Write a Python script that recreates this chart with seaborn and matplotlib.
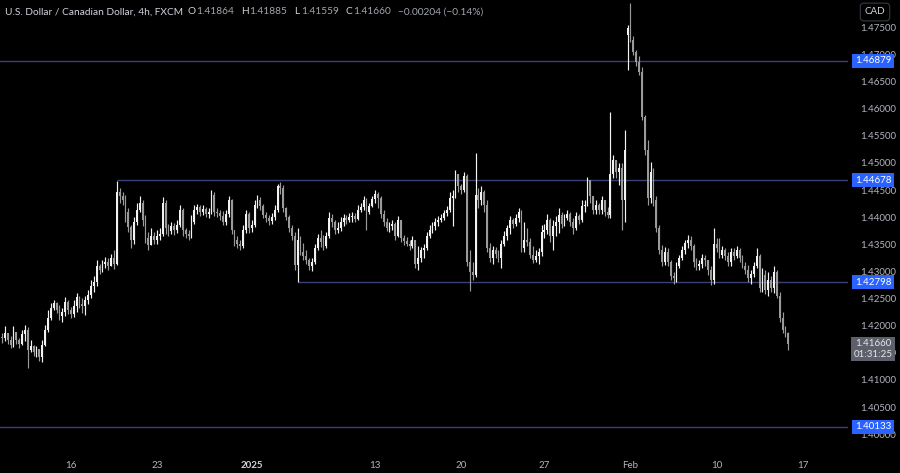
import numpy as np
import pandas as pd
import seaborn as sns
import matplotlib
matplotlib.use('Agg')
import matplotlib.pyplot as plt

# 4h USD/CAD candles (open = previous close unless noted)
close = [1.4177, 1.4186, 1.4173, 1.4164, 1.4188, 1.4173, 1.4166, 1.4184, 1.4192, 1.4155,
         1.4162, 1.4151, 1.4157, 1.4142, 1.4164, 1.4192, 1.4214, 1.4232, 1.4242, 1.4229,
         1.4218, 1.4225, 1.4243, 1.4229, 1.4221, 1.4236, 1.4252, 1.4240, 1.4236, 1.4247,
         1.4257, 1.4273, 1.4280, 1.4310, 1.4302, 1.4314, 1.4317, 1.4310, 1.4325, 1.4314,
         1.4446, 1.4439, 1.4431, 1.4409, 1.4381, 1.4358, 1.4391, 1.4413, 1.4427, 1.4395,
         1.4362, 1.4349, 1.4365, 1.4358, 1.4365, 1.4369, 1.4427, 1.4380, 1.4374, 1.4384,
         1.4376, 1.4386, 1.4413, 1.4376, 1.4369, 1.4365, 1.4391, 1.4413, 1.4418, 1.4409,
         1.4415, 1.4406, 1.4409, 1.4441, 1.4409, 1.4407, 1.4402, 1.4391, 1.4406, 1.4431,
         1.4376, 1.4358, 1.4351, 1.4347, 1.4376, 1.4406, 1.4380, 1.4386, 1.4422, 1.4431,
         1.4420, 1.4404, 1.4398, 1.4393, 1.4400, 1.4413, 1.4457, 1.4453, 1.4416, 1.4400,
         1.4380, 1.4365, 1.4312, 1.4358, 1.4336, 1.4328, 1.4321, 1.4310, 1.4317, 1.4343,
         1.4362, 1.4354, 1.4347, 1.4365, 1.4398, 1.4391, 1.4376, 1.4380, 1.4391, 1.4398,
         1.4395, 1.4400, 1.4402, 1.4397, 1.4413, 1.4418, 1.4431, 1.4409, 1.4420, 1.4433,
         1.4442, 1.4435, 1.4406, 1.4391, 1.4380, 1.4384, 1.4387, 1.4365, 1.4395, 1.4362,
         1.4356, 1.4351, 1.4347, 1.4358, 1.4314, 1.4325, 1.4339, 1.4343, 1.4365, 1.4376,
         1.4384, 1.4391, 1.4395, 1.4398, 1.4407, 1.4413, 1.4435, 1.4439, 1.4479, 1.4457,
         1.4450, 1.4476, 1.4317, 1.4299, 1.4293, 1.4441, 1.4431, 1.4446, 1.4422, 1.4343,
         1.4325, 1.4339, 1.4332, 1.4325, 1.4351, 1.4365, 1.4380, 1.4395, 1.4387, 1.4398,
         1.4409, 1.4343, 1.4358, 1.4354, 1.4330, 1.4321, 1.4328, 1.4336, 1.4373, 1.4376,
         1.4395, 1.4365, 1.4384, 1.4391, 1.4404, 1.4387, 1.4398, 1.4406, 1.4391, 1.4380,
         1.4402, 1.4395, 1.4420, 1.4422, 1.4468, 1.4439, 1.4413, 1.4422, 1.4413, 1.4431,
         1.4409, 1.4404, 1.4479, 1.4505, 1.4483, 1.4490, 1.4431, 1.4524, 1.4748, 1.4726,
         1.4704, 1.4686, 1.4667, 1.4584, 1.4524, 1.4435, 1.4483, 1.4431, 1.4380, 1.4339,
         1.4317, 1.4336, 1.4317, 1.4291, 1.4288, 1.4310, 1.4325, 1.4339, 1.4352, 1.4358,
         1.4347, 1.4317, 1.4310, 1.4314, 1.4325, 1.4321, 1.4302, 1.4284, 1.4351, 1.4343,
         1.4330, 1.4339, 1.4328, 1.4317, 1.4336, 1.4328, 1.4339, 1.4325, 1.4310, 1.4302,
         1.4288, 1.4295, 1.4310, 1.4328, 1.4269, 1.4293, 1.4266, 1.4284, 1.4269, 1.4299,
         1.4255, 1.4214, 1.4192, 1.4186, 1.4166]
high = [1.4186, 1.4199, 1.4183, 1.4181, 1.4199, 1.4186, 1.4177, 1.4192, 1.4201, 1.4197,
        1.4173, 1.4164, 1.4162, 1.4157, 1.4173, 1.4201, 1.4229, 1.4242, 1.4247, 1.4243,
        1.4238, 1.4232, 1.4252, 1.4247, 1.4234, 1.4247, 1.4260, 1.4255, 1.4251, 1.4255,
        1.4266, 1.4284, 1.4291, 1.4321, 1.4314, 1.4321, 1.4326, 1.4325, 1.4332, 1.4339,
        1.4466, 1.4453, 1.4446, 1.4441, 1.4416, 1.4386, 1.4400, 1.4426, 1.4439, 1.4431,
        1.4404, 1.4373, 1.4380, 1.4373, 1.4376, 1.4380, 1.4437, 1.4431, 1.4387, 1.4391,
        1.4389, 1.4395, 1.4422, 1.4416, 1.4380, 1.4376, 1.4404, 1.4422, 1.4424, 1.4422,
        1.4422, 1.4418, 1.4416, 1.4450, 1.4446, 1.4416, 1.4413, 1.4411, 1.4413, 1.4439,
        1.4433, 1.4376, 1.4365, 1.4358, 1.4386, 1.4413, 1.4409, 1.4395, 1.4431, 1.4441,
        1.4437, 1.4424, 1.4409, 1.4404, 1.4407, 1.4422, 1.4462, 1.4464, 1.4459, 1.4418,
        1.4404, 1.4386, 1.4373, 1.4380, 1.4365, 1.4352, 1.4339, 1.4325, 1.4325, 1.4351,
        1.4369, 1.4376, 1.4367, 1.4373, 1.4409, 1.4406, 1.4395, 1.4391, 1.4400, 1.4406,
        1.4404, 1.4407, 1.4409, 1.4407, 1.4422, 1.4426, 1.4439, 1.4435, 1.4426, 1.4439,
        1.4450, 1.4446, 1.4439, 1.4413, 1.4398, 1.4391, 1.4395, 1.4391, 1.4402, 1.4395,
        1.4367, 1.4363, 1.4358, 1.4365, 1.4358, 1.4347, 1.4345, 1.4351, 1.4373, 1.4386,
        1.4391, 1.4398, 1.4402, 1.4406, 1.4413, 1.4420, 1.4446, 1.4450, 1.4487, 1.4468,
        1.4461, 1.4483, 1.4479, 1.4339, 1.4317, 1.4518, 1.4453, 1.4457, 1.4450, 1.4431,
        1.4352, 1.4347, 1.4345, 1.4339, 1.4358, 1.4374, 1.4386, 1.4402, 1.4398, 1.4406,
        1.4416, 1.4413, 1.4391, 1.4380, 1.4362, 1.4347, 1.4339, 1.4343, 1.4386, 1.4387,
        1.4406, 1.4398, 1.4395, 1.4402, 1.4416, 1.4409, 1.4406, 1.4413, 1.4409, 1.4398,
        1.4409, 1.4406, 1.4431, 1.4431, 1.4474, 1.4464, 1.4435, 1.4431, 1.4426, 1.4439,
        1.4426, 1.4418, 1.4594, 1.4515, 1.4498, 1.4500, 1.4500, 1.4560, 1.4754, 1.4795,
        1.4734, 1.4708, 1.4697, 1.4676, 1.4588, 1.4542, 1.4502, 1.4490, 1.4439, 1.4386,
        1.4349, 1.4345, 1.4343, 1.4321, 1.4299, 1.4317, 1.4330, 1.4347, 1.4358, 1.4367,
        1.4365, 1.4351, 1.4325, 1.4321, 1.4332, 1.4330, 1.4321, 1.4310, 1.4380, 1.4362,
        1.4362, 1.4347, 1.4343, 1.4336, 1.4343, 1.4343, 1.4347, 1.4343, 1.4330, 1.4317,
        1.4312, 1.4302, 1.4317, 1.4343, 1.4332, 1.4306, 1.4302, 1.4299, 1.4291, 1.4310,
        1.4302, 1.4262, 1.4225, 1.4199, 1.4189]
low = [1.4169, 1.4171, 1.4166, 1.4158, 1.4160, 1.4166, 1.4158, 1.4164, 1.4171, 1.4122,
       1.4151, 1.4144, 1.4142, 1.4135, 1.4133, 1.4162, 1.4188, 1.4210, 1.4229, 1.4223,
       1.4210, 1.4206, 1.4218, 1.4221, 1.4214, 1.4216, 1.4225, 1.4232, 1.4223, 1.4220,
       1.4240, 1.4251, 1.4262, 1.4273, 1.4295, 1.4299, 1.4306, 1.4302, 1.4310, 1.4304,
       1.4312, 1.4427, 1.4422, 1.4391, 1.4372, 1.4343, 1.4351, 1.4386, 1.4409, 1.4384,
       1.4353, 1.4339, 1.4351, 1.4351, 1.4351, 1.4358, 1.4365, 1.4369, 1.4365, 1.4369,
       1.4367, 1.4371, 1.4382, 1.4365, 1.4362, 1.4358, 1.4362, 1.4387, 1.4406, 1.4402,
       1.4404, 1.4400, 1.4398, 1.4406, 1.4402, 1.4400, 1.4395, 1.4386, 1.4386, 1.4400,
       1.4369, 1.4347, 1.4343, 1.4339, 1.4343, 1.4371, 1.4371, 1.4373, 1.4382, 1.4416,
       1.4413, 1.4398, 1.4391, 1.4386, 1.4387, 1.4395, 1.4409, 1.4442, 1.4409, 1.4395,
       1.4373, 1.4358, 1.4302, 1.4280, 1.4330, 1.4321, 1.4314, 1.4302, 1.4300, 1.4314,
       1.4339, 1.4345, 1.4339, 1.4343, 1.4362, 1.4382, 1.4369, 1.4371, 1.4374, 1.4384,
       1.4387, 1.4391, 1.4391, 1.4391, 1.4395, 1.4409, 1.4413, 1.4376, 1.4406, 1.4418,
       1.4427, 1.4416, 1.4398, 1.4384, 1.4374, 1.4373, 1.4376, 1.4358, 1.4363, 1.4354,
       1.4349, 1.4347, 1.4339, 1.4343, 1.4306, 1.4302, 1.4317, 1.4325, 1.4339, 1.4362,
       1.4371, 1.4376, 1.4384, 1.4391, 1.4395, 1.4402, 1.4409, 1.4384, 1.4435, 1.4446,
       1.4442, 1.4446, 1.4310, 1.4264, 1.4284, 1.4289, 1.4416, 1.4422, 1.4409, 1.4336,
       1.4317, 1.4314, 1.4325, 1.4317, 1.4306, 1.4347, 1.4358, 1.4369, 1.4380, 1.4384,
       1.4391, 1.4336, 1.4336, 1.4347, 1.4325, 1.4315, 1.4317, 1.4314, 1.4328, 1.4362,
       1.4369, 1.4354, 1.4339, 1.4365, 1.4371, 1.4380, 1.4384, 1.4395, 1.4384, 1.4369,
       1.4376, 1.4387, 1.4391, 1.4409, 1.4420, 1.4427, 1.4406, 1.4406, 1.4406, 1.4406,
       1.4402, 1.4398, 1.4398, 1.4472, 1.4472, 1.4459, 1.4376, 1.4391, 1.4671, 1.4723,
       1.4699, 1.4678, 1.4662, 1.4579, 1.4515, 1.4422, 1.4427, 1.4420, 1.4373, 1.4332,
       1.4310, 1.4312, 1.4310, 1.4284, 1.4277, 1.4280, 1.4306, 1.4321, 1.4332, 1.4343,
       1.4339, 1.4308, 1.4302, 1.4302, 1.4306, 1.4310, 1.4293, 1.4275, 1.4277, 1.4336,
       1.4325, 1.4325, 1.4321, 1.4310, 1.4310, 1.4321, 1.4325, 1.4317, 1.4306, 1.4295,
       1.4280, 1.4277, 1.4289, 1.4306, 1.4262, 1.4262, 1.4258, 1.4255, 1.4262, 1.4260,
       1.4251, 1.4206, 1.4186, 1.4180, 1.4156]
first_open = 1.4180
gap_open = {218: 1.4736}   # weekend gap on the tariff news open

levels = [1.46879, 1.44678, 1.42798, 1.40133]
level_from = [-1, 40, 103, -1]

date_pos = [24, 54, 87, 130, 160, 189, 219, 249, 279]
date_labels = ['16', '23', '2025', '13', '20', '27', 'Feb', '10', '17']

title_name = 'U.S. Dollar / Canadian Dollar, 4h, FXCM'
ohlc_text = [('O', '1.41864'), ('H', '1.41885'), ('L', '1.41559'), ('C', '1.41660')]
change_text = '\u22120.00204 (\u22120.14%)'
last_price = '1.41660'
countdown = '01:31:25'

df = pd.DataFrame({'close': close, 'high': high, 'low': low})
df['open'] = df['close'].shift(1)
df.loc[0, 'open'] = first_open
for k, v in gap_open.items():
    df.loc[k, 'open'] = v
df['high'] = np.maximum(df['high'], df[['open', 'close']].max(axis=1))
df['low'] = np.minimum(df['low'], df[['open', 'close']].min(axis=1))
df['up'] = df['close'] >= df['open']

sns.set_theme(style='dark', rc={'axes.facecolor': 'black', 'figure.facecolor': 'black',
                                'axes.grid': False})
plt.rcParams['font.family'] = ['Lato', 'DejaVu Sans']

fig = plt.figure(figsize=(9, 4.73), dpi=100)
ax = fig.add_axes([0, 26 / 473, 848 / 900, 447 / 473])
ax.set_facecolor('black')

UP = '#f2f2f2'
DOWN = '#9a9a9a'
cols = np.where(df['up'], UP, DOWN)
idx = np.arange(len(df))

ax.vlines(idx, df['low'], df['high'], colors=cols, lw=0.85, zorder=3)
body_lo = df[['open', 'close']].min(axis=1)
body_h = np.maximum((df['close'] - df['open']).abs(), 0.00006)
ax.bar(idx, body_h, bottom=body_lo, width=0.62, color=cols, linewidth=0, zorder=4)

LINE = '#3b4076'
for lv, start in zip(levels, level_from):
    ax.hlines(lv, start, 400, colors=LINE, lw=1.0, zorder=2)

ax.set_xlim(-0.7, 294.8)
ax.set_ylim(1.39764, 1.48003)
for s in ax.spines.values():
    s.set_visible(False)

# price scale on the right
ax.yaxis.tick_right()
ax.set_yticks(np.round(np.arange(1.400, 1.4751, 0.005), 3))
ax.yaxis.set_major_formatter(matplotlib.ticker.FormatStrFormatter('%.5f'))
ax.tick_params(axis='y', length=0, pad=9, labelsize=7, labelcolor='#b2b5be')

ax.set_xticks(date_pos, date_labels)
ax.tick_params(axis='x', length=0, pad=10, labelsize=7, labelcolor='#b2b5be')
for t in ax.get_xticklabels():
    if t.get_text() == '2025':
        t.set_fontweight('bold')
        t.set_color('#d1d4dc')

trans = matplotlib.transforms.blended_transform_factory(fig.transFigure, ax.transData)
for lv in levels:
    ax.text(873 / 900, lv, f'{lv:.5f}', transform=trans, ha='center', va='center',
            fontsize=7, color='white', zorder=20, clip_on=False,
            bbox=dict(boxstyle='square,pad=0.25', fc='#2962ff', ec='none'))
ax.text(873 / 900, df['close'].iloc[-1] + 0.0009, f'{last_price}\n{countdown}', transform=trans,
        ha='center', va='top', fontsize=7, color='#e6e6e6', zorder=20, clip_on=False,
        linespacing=1.2,
        bbox=dict(boxstyle='square,pad=0.25', fc='#5d606b', ec='none'))

fig.text(875 / 900, 1 - 12 / 473, 'CAD', ha='center', va='center', fontsize=7,
         color='#d1d4dc',
         bbox=dict(boxstyle='round,pad=0.45,rounding_size=0.4', fc='black', ec='#363a45', lw=0.8))

# legend row at the top left, drawn piece by piece
renderer = fig.canvas.get_renderer()
LIGHT = '#d1d4dc'
GREY = '#a3a6af'
pieces = [(title_name, LIGHT, 4)]
for k, v in ohlc_text:
    pieces.append((k, LIGHT, 1))
    pieces.append((v, GREY, 7))
pieces.append((change_text, GREY, 0))
x = 5 / 900
y = 1 - 12 / 473
for txt, col, gap in pieces:
    t = fig.text(x, y, txt, color=col, fontsize=7.3, ha='left', va='center')
    bb = t.get_window_extent(renderer=renderer)
    x += (bb.width + gap) / fig.bbox.width

fig.savefig('out.png', dpi=100, facecolor='black')
